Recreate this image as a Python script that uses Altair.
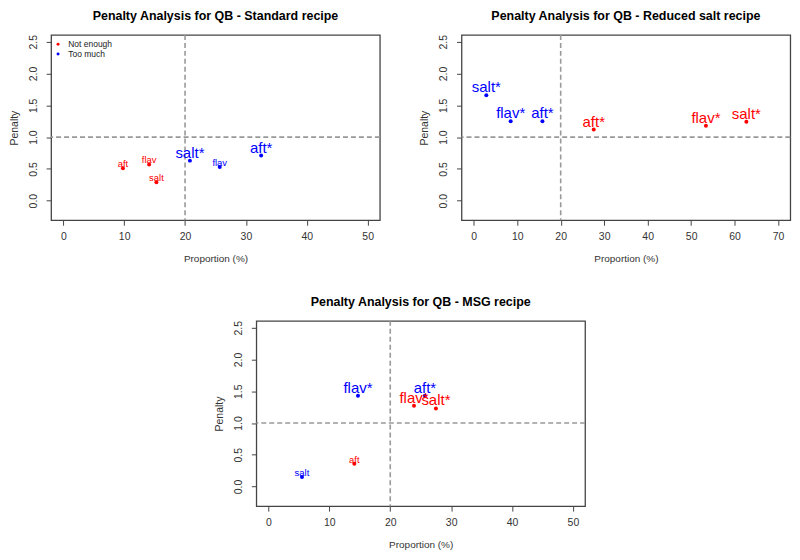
import altair as alt
import pandas as pd

FONT = "Liberation Sans"
RED = "#FF0000"
BLUE = "#0000FF"

# ---- data ----
# Standard recipe
std_label = ["aft", "flav", "salt", "salt*", "flav", "aft*"]
std_x = [9.8, 14.1, 15.3, 20.8, 25.7, 32.5]
std_y = [0.51, 0.57, 0.29, 0.63, 0.53, 0.71]
std_type = ["Not enough", "Not enough", "Not enough", "Too much", "Too much", "Too much"]

# Reduced salt recipe
red_label = ["salt*", "flav*", "aft*", "aft*", "flav*", "salt*"]
red_x = [2.9, 8.5, 15.8, 27.6, 53.4, 62.7]
red_y = [1.66, 1.25, 1.25, 1.12, 1.18, 1.24]
red_type = ["Too much", "Too much", "Too much", "Not enough", "Not enough", "Not enough"]

# MSG recipe
msg_label = ["salt", "flav*", "aft*", "aft", "flav*", "salt*"]
msg_x = [5.5, 14.7, 25.7, 14.1, 23.9, 27.5]
msg_y = [0.15, 1.43, 1.43, 0.36, 1.27, 1.23]
msg_type = ["Too much", "Too much", "Too much", "Not enough", "Not enough", "Not enough"]

y_ticks = [0.0, 0.5, 1.0, 1.5, 2.0, 2.5]
types = ["Not enough", "Too much"]
colors = [RED, BLUE]

W, H = 330, 186


def panel(title, labels, xs, ys, tps, xmax, xticks):
    df = pd.DataFrame({"label": labels, "x": xs, "y": ys, "type": tps})
    df["big"] = df["label"].str.endswith("*")
    pad = xmax * 0.04
    xs_ = alt.Scale(domain=[-pad, xmax + pad], nice=False, zero=False)
    ys_ = alt.Scale(domain=[-0.308, 2.608], nice=False, zero=False)
    xax = alt.Axis(values=xticks, title="Proportion (%)", grid=False, domain=False,
                   tickSize=5, tickColor="#444", labelPadding=6, titlePadding=12,
                   labelFontSize=10.5, titleFontSize=10, labelColor="#333",
                   titleColor="#333", labelFont=FONT, titleFont=FONT,
                   titleFontWeight="normal", labelOverlap=False)
    yax = alt.Axis(values=y_ticks, format=".1f", title="Penalty",
                   grid=False, domain=False, tickSize=5, tickColor="#444",
                   labelAngle=270, labelPadding=8, titlePadding=9,
                   labelFontSize=10.5, titleFontSize=10.5, labelColor="#333",
                   titleColor="#333", labelFont=FONT, titleFont=FONT,
                   titleFontWeight="normal", labelOverlap=False, labelFlush=False)

    def X(f):
        return alt.X(f, scale=xs_, axis=xax, title="Proportion (%)")

    def Y(f):
        return alt.Y(f, scale=ys_, axis=yax, title="Penalty")

    cscale = alt.Scale(domain=types, range=colors)
    base = alt.Chart(df)
    pts = base.mark_circle(size=16, opacity=1).encode(
        x=X("x:Q"),
        y=Y("y:Q"),
        color=alt.Color("type:N", scale=cscale,
                        legend=alt.Legend(title=None, orient="none", legendX=3,
                                          legendY=5, padding=0, symbolType="circle",
                                          symbolSize=9, labelFontSize=8.5,
                                          labelFont=FONT, labelColor="#222",
                                          rowPadding=1, labelOffset=6,
                                          symbolStrokeWidth=0)),
    )
    big_txt = base.transform_filter("datum.big").mark_text(
        fontSize=15, font=FONT, baseline="alphabetic", dy=-3
    ).encode(
        x=X("x:Q"), y=Y("y:Q"),
        text="label:N",
        color=alt.Color("type:N", scale=cscale, legend=None),
    )
    small_txt = base.transform_filter("!datum.big").mark_text(
        fontSize=9.5, font=FONT, baseline="alphabetic", dy=-1
    ).encode(
        x=X("x:Q"), y=Y("y:Q"),
        text="label:N",
        color=alt.Color("type:N", scale=cscale, legend=None),
    )
    vline = alt.Chart(pd.DataFrame({"x": [20]})).mark_rule(
        color="#999999", strokeDash=[5, 3], strokeWidth=1.6
    ).encode(x=X("x:Q"))
    hline = alt.Chart(pd.DataFrame({"y": [1.0]})).mark_rule(
        color="#999999", strokeDash=[5, 3], strokeWidth=1.6
    ).encode(y=Y("y:Q"))

    return alt.layer(pts, vline, hline, small_txt, big_txt).properties(
        width=W, height=H,
        title=alt.TitleParams(title, fontSize=12.5, fontWeight="bold", font=FONT,
                              anchor="middle", frame="group", offset=12, color="#000"),
    )


p1 = panel("Penalty Analysis for QB - Standard recipe", std_label, std_x, std_y, std_type,
           50, [0, 10, 20, 30, 40, 50])
p2 = panel("Penalty Analysis for QB - Reduced salt recipe", red_label, red_x, red_y, red_type,
           70, [0, 10, 20, 30, 40, 50, 60, 70])
p3 = panel("Penalty Analysis for QB - MSG recipe", msg_label, msg_x, msg_y, msg_type,
           50, [0, 10, 20, 30, 40, 50])

top = alt.hconcat(p1, p2, spacing=37)
chart = alt.vconcat(top, p3, spacing=30, center=True).properties(
    padding=0, background="white"
).configure_view(stroke="#444444", strokeWidth=1.3)

chart.save("out.html", embed_options={"renderer": "svg", "actions": False})
